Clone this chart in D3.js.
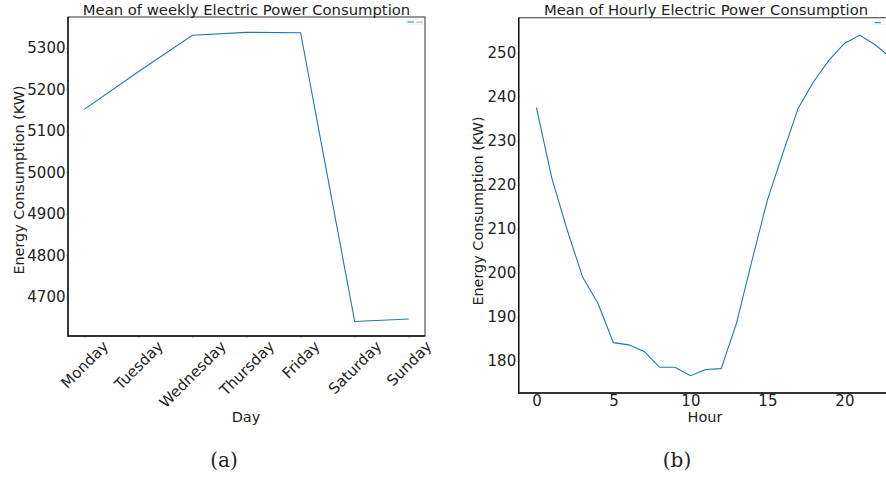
<!DOCTYPE html>
<html>
<head>
<meta charset="utf-8">
<script src="https://cdn.jsdelivr.net/npm/d3@7"></script>
<style>
  body { margin: 0; background: #fff; }
  svg text { font-family: "DejaVu Sans", sans-serif; fill: #222; }
  svg text.cap { font-family: "DejaVu Serif", serif; }
  .tick line { stroke: #b0b0b0; }
  .tick text { font-size: 15px; }
  .domain { display: none; }
</style>
</head>
<body>
<div id="chart"></div>
<script>
// weekly means
const days = ["Monday", "Tuesday", "Wednesday", "Thursday", "Friday", "Saturday", "Sunday"];
const weeklyValues = [5152, 5243, 5331, 5338, 5337, 4640, 4646];
const weeklyTicks = [4700, 4800, 4900, 5000, 5100, 5200, 5300];

// hourly means
const hours = [0, 1, 2, 3, 4, 5, 6, 7, 8, 9, 10, 11, 12, 13, 14, 15, 16, 17, 18, 19, 20, 21, 22, 23];
const hourlyValues = [237.5, 221.5, 209.7, 199.0, 193.0, 184.1, 183.6, 182.1, 178.5, 178.5, 176.6, 178.0,
                      178.2, 188.6, 202.8, 216.5, 227.1, 237.4, 243.4, 248.3, 252.1, 254.0, 251.8, 248.9];
const hourlyTicks = [180, 190, 200, 210, 220, 230, 240, 250];
const hourTicks = [0, 5, 10, 15, 20];

const W = 886, H = 477;
const lineColor = "#1f77b4";

const svg = d3.select("#chart").append("svg")
    .attr("width", W)
    .attr("height", H);

svg.append("rect").attr("width", W).attr("height", H).attr("fill", "#fff");

//---------- panel (a) ----------
const a = {left: 68, right: 425, top: 17, bottom: 336};

const xA = d3.scalePoint().domain(days).range([a.left, a.right]).padding(0.3);
const yA = d3.scaleLinear().domain([4605, 5375]).range([a.bottom, a.top]);

const gA = svg.append("g");

gA.append("g")
    .attr("transform", `translate(${a.left},0)`)
    .call(d3.axisLeft(yA).tickValues(weeklyTicks).tickSize(2).tickPadding(0.5).tickFormat(d3.format("d")));

const xAxisA = gA.append("g")
    .attr("transform", `translate(0,${a.bottom})`)
    .call(d3.axisBottom(xA).tickSize(2).tickPadding(2));

// rotated labels, bbox centred under the tick like matplotlib
xAxisA.selectAll(".tick text").each(function() {
    const t = d3.select(this);
    const w = this.getComputedTextLength();
    const h = 12;
    const off = (w + h) * Math.SQRT1_2 / 2;
    t.attr("dy", null).attr("y", null)
      .attr("text-anchor", "middle")
      .attr("dominant-baseline", "central")
      .attr("transform", `translate(0,${3.5 + off}) rotate(-45)`);
});

gA.append("path")
    .datum(weeklyValues)
    .attr("fill", "none")
    .attr("stroke", lineColor)
    .attr("stroke-width", 1.1)
    .attr("d", d3.line().x((d, i) => xA(days[i])).y(d => yA(d)));

// frame
gA.append("rect")
    .attr("x", a.left).attr("y", a.top)
    .attr("width", a.right - a.left).attr("height", a.bottom - a.top)
    .attr("fill", "none").attr("stroke", "#555").attr("stroke-width", 1.2);
gA.append("path")
    .attr("d", `M${a.left},${a.top}V${a.bottom}H${a.right}`)
    .attr("fill", "none").attr("stroke", "#111").attr("stroke-width", 1.4);

// tiny legend
const legA = gA.append("g").attr("transform", `translate(${a.right - 19},${a.top + 3})`);
legA.append("rect").attr("width", 17).attr("height", 4).attr("fill", "#fff").attr("stroke", "#ddd").attr("stroke-width", 0.4);
legA.append("line").attr("x1", 1.5).attr("x2", 8).attr("y1", 2).attr("y2", 2).attr("stroke", lineColor).attr("stroke-width", 1);
legA.append("text").attr("x", 9.5).attr("y", 3).attr("font-size", 2.5).style("fill", "#666").text("value");

gA.append("text")
    .attr("x", 246.5).attr("y", 15)
    .attr("text-anchor", "middle").attr("font-size", 14.8)
    .text("Mean of weekly Electric Power Consumption");

gA.append("text")
    .attr("x", 246).attr("y", 422)
    .attr("text-anchor", "middle").attr("font-size", 14.5)
    .text("Day");

gA.append("text")
    .attr("transform", `translate(23.5,180) rotate(-90)`)
    .attr("text-anchor", "middle").attr("font-size", 14.4)
    .text("Energy Consumption (KW)");

//---------- panel (b) ----------
const b = {left: 518.7, right: 908.3, top: 17.7, bottom: 393};

const xB = d3.scaleLinear().domain([-1.15, 24.15]).range([b.left, b.right]);
const yB = d3.scaleLinear().domain([172.66, 257.95]).range([b.bottom, b.top]);

const gB = svg.append("g");

gB.append("g")
    .attr("transform", `translate(${b.left},0)`)
    .call(d3.axisLeft(yB).tickValues(hourlyTicks).tickSize(2).tickPadding(0.5).tickFormat(d3.format("d")));

gB.append("g")
    .attr("transform", `translate(0,${b.bottom})`)
    .call(d3.axisBottom(xB).tickValues(hourTicks).tickSize(2).tickPadding(0).tickFormat(d3.format("d")));

gB.append("path")
    .datum(hourlyValues)
    .attr("fill", "none")
    .attr("stroke", lineColor)
    .attr("stroke-width", 1.1)
    .attr("d", d3.line().x((d, i) => xB(hours[i])).y(d => yB(d)));

gB.append("rect")
    .attr("x", b.left).attr("y", b.top)
    .attr("width", b.right - b.left).attr("height", b.bottom - b.top)
    .attr("fill", "none").attr("stroke", "#555").attr("stroke-width", 1.2);
gB.append("path")
    .attr("d", `M${b.left},${b.top}V${b.bottom}H${b.right}`)
    .attr("fill", "none").attr("stroke", "#111").attr("stroke-width", 1.4);

// legend of panel (b): only its left part lies inside the picture
const legB = gB.append("g").attr("transform", `translate(873,${b.top + 3})`);
legB.append("rect").attr("width", 17).attr("height", 4).attr("fill", "#fff").attr("stroke", "#ddd").attr("stroke-width", 0.4);
legB.append("line").attr("x1", 1.5).attr("x2", 8).attr("y1", 2).attr("y2", 2).attr("stroke", lineColor).attr("stroke-width", 1);

gB.append("text")
    .attr("x", 706).attr("y", 15)
    .attr("text-anchor", "middle").attr("font-size", 14.8)
    .text("Mean of Hourly Electric Power Consumption");

gB.append("text")
    .attr("x", 705).attr("y", 422)
    .attr("text-anchor", "middle").attr("font-size", 14.5)
    .text("Hour");

gB.append("text")
    .attr("transform", `translate(482.5,211) rotate(-90)`)
    .attr("text-anchor", "middle").attr("font-size", 14.4)
    .text("Energy Consumption (KW)");

//---------- captions ----------
svg.append("text").attr("class", "cap")
    .attr("x", 224).attr("y", 467)
    .attr("text-anchor", "middle").attr("font-size", 20)
    .text("(a)");
svg.append("text").attr("class", "cap")
    .attr("x", 677).attr("y", 467)
    .attr("text-anchor", "middle").attr("font-size", 20)
    .text("(b)");
</script>
</body>
</html>
